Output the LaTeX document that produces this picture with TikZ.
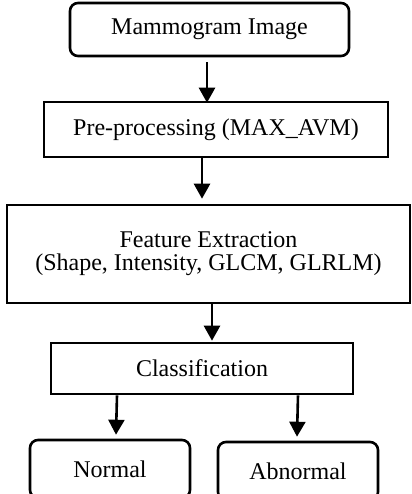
\documentclass[tikz,border=0pt]{standalone}
\usepackage{fontspec}
\setmainfont{Liberation Serif}
\usepackage{tikz}
\usetikzlibrary{arrows.meta,calc}
\tikzset{>={Triangle[width=8pt,length=7.5pt]},box/.style={draw,line width=1.3pt,align=center,inner sep=0pt,font=\fontsize{12}{11.5}\selectfont},rbox/.style={box,rounded corners=4pt},arr/.style={->,line width=1.3pt}}
\begin{document}
\begin{tikzpicture}[x=0.5pt,y=-0.5pt]
\useasboundingbox (0,0) rectangle (412,494);
\clip (0,0) rectangle (412,494);
\node[rbox,minimum width=139.5pt,minimum height=26.5pt] (img) at (209.5,29.5) {Mammogram Image};
\node[box,minimum width=172pt,minimum height=27.5pt] (pre) at (216,129.5) {Pre-processing (MAX\_AVM)};
\node[box,minimum width=201.5pt,minimum height=49pt] (feat) at (208.5,254) {Feature Extraction\\(Shape, Intensity, GLCM, GLRLM)};
\node[box,minimum width=151pt,minimum height=25.5pt] (cls) at (202,368.5) {Classification};
\node[rbox,minimum width=80pt,minimum height=29pt] (norm) at (110,469) {Normal};
\node[rbox,minimum width=80pt,minimum height=29pt] (abn) at (298,471) {Abnormal};
\draw[arr] ($(img.south)+(-2.5,5)$) -- ($(img.south |- pre.north)+(-2.5,2)$);
\draw[arr] ($(pre.south)+(-14,0)$) -- ($(feat.north)+(-6.5,-5)$);
\draw[arr] ($(feat.south)+(3.5,0)$) -- ($(cls.north)+(10,-1)$);
\draw[arr] ($(cls.south)+(-85,0)$) -- ($(norm.north)+(6,-4)$);
\draw[arr] ($(cls.south)+(96,0)$) -- ($(abn.north)+(-1,-4)$);
\end{tikzpicture}
\end{document}
